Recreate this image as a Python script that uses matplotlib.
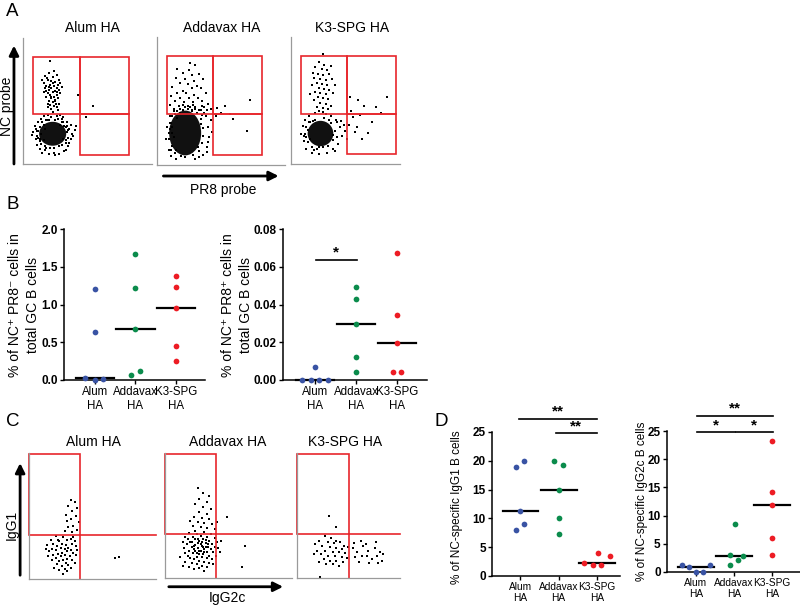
import matplotlib
matplotlib.use('Agg')
import numpy as np
import matplotlib.pyplot as plt
from matplotlib.patches import Rectangle, Ellipse

plt.rcParams['font.family'] = ['Liberation Sans', 'DejaVu Sans']

# ---------------- data ----------------
groups = ['Alum\nHA', 'Addavax\nHA', 'K3-SPG\nHA']
flow_titles = ['Alum HA', 'Addavax HA', 'K3-SPG HA']
colors = ['#3953a4', '#0b8c4c', '#ed1c24']

# B: % of NC+ PR8- cells in total GC B cells
b1_alum = [1.21, 0.63, 0.03, 0.0, 0.01]
b1_addavax = [1.67, 1.22, 0.68, 0.12, 0.07]
b1_k3 = [1.38, 1.23, 0.95, 0.45, 0.25]
b1_dx = [[0, 0, -0.25, 0, 0.2], [0, 0, 0, 0.12, -0.1], [0, 0, 0, 0, 0]]

# B: % of NC+ PR8+ cells in total GC B cells
b2_alum = [0.007, 0.0, 0.0, 0.0, 0.0]
b2_addavax = [0.0494, 0.0427, 0.0297, 0.012, 0.0044]
b2_k3 = [0.0674, 0.0344, 0.0196, 0.0041, 0.0041]
b2_dx = [[0, -0.32, -0.1, 0.1, 0.32], [0, 0, 0, 0, 0], [0, 0, 0, -0.1, 0.1]]

# D: % of NC-specific IgG1 B cells
d1_alum = [20.0, 19.0, 11.2, 9.1, 8.0]
d1_addavax = [20.0, 19.2, 15.0, 10.1, 7.3]
d1_k3 = [2.27, 1.98, 4.0, 1.98, 3.43]
d1_dx = [[0.1, -0.12, 0, 0.1, -0.12], [-0.12, 0.12, 0, 0, 0], [-0.33, -0.09, 0.02, 0.12, 0.34]]

# D: % of NC-specific IgG2c B cells
d2_alum = [1.18, 0.83, 0.0, 0.0, 1.18]
d2_addavax = [8.5, 2.95, 2.77, 2.12, 1.18]
d2_k3 = [23.3, 14.27, 11.8, 6.0, 3.07]
d2_dx = [[-0.38, -0.18, 0, 0.18, 0.37], [0.03, -0.1, 0.23, 0.11, -0.1], [0, 0, 0, 0, 0]]

# flow dot plots (0-100 scale on both axes), events
a1_dots = [(17, 70), (20, 72), (23, 69), (26, 71), (19, 67), (22, 66), (25, 65), (28, 67), (16, 64), (18, 62),
           (21, 63), (24, 62), (27, 63), (30, 61), (17, 60), (20, 59), (22, 60), (25, 58), (28, 59), (19, 56),
           (21, 55), (23, 57), (26, 55), (29, 56), (16, 57), (18, 53), (22, 52), (24, 53), (27, 52), (20, 50),
           (23, 49), (25, 50), (28, 48), (21, 47), (24, 46), (26, 45), (22, 44), (19, 48), (27, 43), (23, 41),
           (15, 67), (29, 64), (24, 74), (18, 58), (26, 60), (21, 82), (54, 46), (43, 55), (49, 37), (30, 33),
           (18.5, 68.5), (23.5, 64), (20.5, 61), (26.5, 57.5), (21.5, 53.5), (24.5, 51), (19.5, 45), (25.5, 48),
           (8, 25), (10, 20), (9, 30), (11, 15), (12, 33), (13, 12), (14, 36), (15, 9), (16, 38), (17, 11),
           (19, 39), (20, 8), (22, 37), (24, 9), (26, 38), (28, 8), (30, 36), (32, 10), (34, 33), (35, 14),
           (36, 28), (37, 20), (38, 24), (36, 17), (34, 30), (12, 26), (11, 22), (13, 18), (33, 11), (31, 37),
           (39, 22), (40, 27), (7, 23), (18, 35), (29, 39), (25, 7), (10, 28), (37, 31), (33, 19), (41, 30),
           (12, 21), (13, 29), (14, 16), (15, 33), (17, 14), (19, 35), (21, 13), (25, 35), (28, 14), (31, 33),
           (33, 17), (34, 25), (35, 21), (32, 30), (16, 31), (14, 24), (30, 15), (27, 36), (20, 35), (13, 20),
           (35, 27), (33, 29), (18, 13), (24, 13), (11, 26), (16, 19), (31, 20), (29, 31), (17, 28)]
a1_cores = [(23, 24, 21, 19)]

a2_dots = [(30, 78), (25, 74), (20, 72), (27, 70), (33, 71), (15, 68), (22, 67), (29, 66), (36, 67), (18, 64),
           (24, 63), (31, 62), (12, 61), (27, 60), (34, 60), (20, 58), (16, 56), (23, 56), (29, 55), (38, 56),
           (11, 54), (18, 52), (25, 52), (32, 52), (14, 50), (21, 49), (28, 49), (35, 50), (40, 48), (10, 47),
           (17, 46), (24, 46), (30, 45), (37, 45), (13, 44), (20, 43), (27, 43), (33, 43), (42, 44), (26, 80),
           (16, 75), (47, 44.5), (72.6, 51), (70, 26.5), (57, 40), (59.4, 36), (39, 43), (50, 41), (53, 46),
           (46, 38), (7, 20), (8, 30), (9, 12), (10, 38), (9, 25), (11, 7), (13, 42), (15, 5), (18, 44), (22, 6),
           (26, 45), (30, 5), (34, 43), (36, 8), (38, 38), (39, 14), (40, 30), (41, 22), (42, 35), (40, 18),
           (37, 41), (12, 15), (11, 33), (14, 40), (20, 47), (28, 47), (33, 6), (43, 26), (39, 10), (35, 46),
           (9, 20), (10, 28), (10, 33), (11, 12), (12, 38), (14, 9), (16, 42), (19, 7), (24, 44), (28, 8),
           (31, 41), (33, 11), (34, 36), (35, 17), (36, 29), (36, 23), (13, 22), (12, 30), (16, 37), (30, 44),
           (22, 45), (18, 41), (32, 14), (34, 32), (12, 25), (15, 12), (35, 39), (27, 42)]
a2_cores = [(22, 25, 25, 35)]

a3_dots = [(25, 87), (22, 80), (26, 78), (19, 76), (24, 75), (28, 74), (17, 72), (21, 71), (25, 70), (30, 71),
           (18, 68), (23, 67), (27, 66), (32, 67), (20, 64), (24, 63), (28, 62), (16, 62), (22, 60), (26, 59),
           (30, 58), (19, 57), (23, 56), (27, 55), (33, 56), (21, 53), (25, 52), (29, 51), (18, 50), (23, 48),
           (27, 47), (31, 46), (20, 45), (25, 44), (29, 43), (22, 42), (15, 55), (34, 62), (31, 77),
           (46, 53), (52.3, 50.6), (75, 53), (51.5, 29), (60, 24.4), (48.4, 37), (54, 38.6), (57, 46), (63, 33),
           (47, 42), (70, 40), (45, 31), (55, 20), (66, 45), (50, 25),
           (8, 24), (9, 30), (10, 18), (11, 35), (12, 12), (14, 38), (16, 9), (19, 40), (22, 8), (25, 41),
           (28, 9), (31, 38), (33, 12), (35, 35), (37, 16), (38, 29), (40, 22), (42, 26), (44, 20), (36, 33),
           (13, 27), (10, 22), (34, 10), (27, 39), (18, 11), (39, 34), (41, 31), (15, 33),
           (11, 24), (12, 29), (13, 17), (14, 33), (16, 13), (19, 35), (22, 13), (26, 36), (29, 14), (31, 32),
           (33, 19), (34, 26), (33, 23), (17, 34), (30, 35), (12, 21), (25, 13), (20, 12), (36, 21), (15, 20)]
a3_cores = [(23, 24, 20, 20)]

c1_dots = [(33, 63), (36, 61), (31, 58), (38, 56), (34, 54), (29, 51), (37, 50), (33, 48), (30, 46), (39, 45),
           (35, 42), (31, 41), (38, 39), (34, 37), (28, 38), (21, 34), (27, 33), (33, 32), (17, 31), (24, 30),
           (30, 31), (36, 30), (19, 28), (26, 28), (29, 27), (34, 28), (14, 27), (22, 26), (31, 25), (37, 26),
           (25, 25), (18, 24), (28, 24), (33, 23), (21, 23), (16, 22), (26, 21), (30, 22), (35, 21), (23, 20),
           (19, 19), (28, 19), (32, 18), (37, 19), (25, 18), (15, 18), (21, 17), (30, 16), (27, 15), (34, 15),
           (18, 15), (24, 14), (29, 13), (36, 13), (22, 12), (31, 11), (26, 10), (33, 9), (28, 8), (24, 7),
           (30, 6), (27, 4), (20, 9), (38, 23), (13, 24), (35, 33), (23, 31), (67.7, 16.7), (71, 17.5)]

c2_dots = [(26, 72), (30, 68), (35, 66), (27, 63), (33, 61), (24, 59), (30, 57), (36, 55), (27, 53), (33, 51),
           (23, 49), (29, 48), (35, 47), (26, 45), (31, 44), (37, 43), (22, 42), (28, 41), (33, 40), (39, 39),
           (24, 38), (49, 49), (41, 45), (20, 46), (19, 36), (25, 35), (31, 37), (36, 35), (16, 33), (22, 33),
           (28, 34), (33, 33), (39, 32), (18, 31), (24, 31), (27, 30), (30, 31), (35, 30), (41, 29), (14, 29),
           (20, 29), (26, 28), (32, 28), (37, 27), (17, 27), (23, 26), (29, 26), (34, 25), (39, 25), (21, 25),
           (15, 24), (26, 24), (31, 23), (36, 23), (19, 22), (24, 22), (28, 22), (33, 21), (38, 21), (16, 20),
           (22, 20), (27, 19), (30, 19), (35, 18), (40, 18), (18, 18), (25, 17), (29, 17), (33, 16), (20, 16),
           (37, 15), (23, 15), (27, 14), (31, 13), (16, 13), (35, 12), (21, 12), (25, 11), (29, 10), (33, 9),
           (19, 9), (27, 8), (23, 7), (31, 6), (14, 10), (38, 11), (12, 17), (42, 24), (44, 30), (43, 21),
           (63, 25.6), (61, 8.8), (29, 29), (25, 20), (32, 25), (28, 27.5), (23, 23.5), (31, 20.5), (26, 31.5),
           (34, 27), (21, 28.5), (30, 24.5), (27, 21.5), (24, 26.5), (32, 30.5)]

c3_dots = [(25, 50), (31, 41), (22, 34), (27, 32), (31, 30), (17, 30), (24, 29), (29, 28), (34, 29), (37, 26),
           (14, 27), (20, 26), (26, 25), (31, 24), (35, 23), (40, 25), (16, 22), (22, 22), (28, 21), (33, 21),
           (38, 20), (13, 19), (19, 19), (24, 18), (30, 18), (35, 17), (39, 16), (21, 15), (26, 14), (31, 14),
           (36, 13), (17, 13), (28, 11), (33, 10), (23, 11), (18, 1),
           (44, 24), (47, 21), (52, 26), (56, 22), (61, 24), (65, 21), (68, 19), (46, 17), (51, 18), (55, 18),
           (59, 15), (63, 18), (67, 14), (49, 13), (57, 12), (64, 12), (45, 28), (54, 27), (62, 29), (50, 30)]

# ---------------- figure ----------------
W, H = 800, 606
fig = plt.figure(figsize=(8, 6.06), dpi=100)
GATE = '#e8262c'


def px_axes(left, top, right, bottom):
    return fig.add_axes([left / W, 1 - bottom / H, (right - left) / W, (bottom - top) / H])


def px_text(x, y, s, **kw):
    fig.text(x / W, 1 - y / H, s, ha='center', va='center', **kw)


def flow_panel(ax, xmax, dots, cores=()):
    ax.set_xlim(0, xmax)
    ax.set_ylim(0, 100)
    ax.set_xticks([])
    ax.set_yticks([])
    for s in ['top', 'right']:
        ax.spines[s].set_visible(False)
    for s in ['left', 'bottom']:
        ax.spines[s].set_color('#9a9a9a')
        ax.spines[s].set_linewidth(0.9)
    for cx, cy, w, h in cores:
        ax.add_patch(Ellipse((cx, cy), w, h, facecolor='#111111', edgecolor='none'))
    xs, ys = zip(*dots)
    ax.scatter(xs, ys, s=0.9, color='black', linewidths=0, marker='s')


def a_gates(ax):
    for x0, y0, w, h in [(8, 39.5, 36, 45.5), (44, 39.5, 38, 45.5), (44, 7.5, 38, 32)]:
        ax.add_patch(Rectangle((x0, y0), w, h, fill=False, edgecolor=GATE, lw=1.2, clip_on=False))


def c_gates(ax, vx, xmax):
    ax.add_patch(Rectangle((0, 35), vx, 64, fill=False, edgecolor=GATE, lw=1.2, clip_on=False))
    ax.plot([vx, vx], [0, 35], color=GATE, lw=1.2, clip_on=False)
    ax.plot([vx, xmax], [35, 35], color=GATE, lw=1.2, clip_on=False)


def dot_panel(ax, series, dxs, xlim, ylim, yticks, fmt, xfs):
    for i, (vals, dx, c) in enumerate(zip(series, dxs, colors)):
        x = i + 1 + np.array(dx)
        m = np.median(vals)
        ax.plot([i + 1 - 0.47, i + 1 + 0.47], [m, m], color='black', lw=1.6, zorder=2, clip_on=False)
        ax.scatter(x, vals, s=17, color=c, linewidths=0, zorder=3, clip_on=False)
    ax.set_xlim(*xlim)
    ax.set_ylim(*ylim)
    ax.set_yticks(yticks)
    ax.set_yticklabels([fmt.format(t) for t in yticks], fontsize=8.5, fontweight='bold')
    ax.set_xticks([1, 2, 3])
    ax.set_xticklabels(groups, fontsize=xfs, linespacing=1.15)
    ax.tick_params(axis='both', length=3, width=1, pad=1.5)
    for s in ['top', 'right']:
        ax.spines[s].set_visible(False)
    for s in ['left', 'bottom']:
        ax.spines[s].set_linewidth(1.1)


def sig_bar(ax, x1, x2, y, label):
    ax.plot([x1, x2], [y, y], color='black', lw=1.2, clip_on=False)
    ax.text((x1 + x2) / 2, y, label, ha='center', va='bottom', fontsize=11, fontweight='bold')


# ---- panel A ----
ax_a1 = px_axes(23, 38, 152, 164)
ax_a2 = px_axes(157, 37, 285, 165)
ax_a3 = px_axes(291, 37, 400, 164)
flow_panel(ax_a1, 100, a1_dots, a1_cores)
flow_panel(ax_a2, 100, a2_dots, a2_cores)
flow_panel(ax_a3, 85, a3_dots, a3_cores)
for ax in (ax_a1, ax_a2, ax_a3):
    a_gates(ax)
for (x, t) in zip([92, 222, 352], flow_titles):
    px_text(x, 28, t, fontsize=10)
ax_a1.annotate('', xy=(-0.07, 0.94), xytext=(-0.07, 0.0), xycoords='axes fraction',
               arrowprops=dict(arrowstyle='-|>', color='black', lw=2, mutation_scale=14, shrinkA=0, shrinkB=0),
               annotation_clip=False)
ax_a2.annotate('', xy=(0.95, -0.086), xytext=(0.05, -0.086), xycoords='axes fraction',
               arrowprops=dict(arrowstyle='-|>', color='black', lw=2, mutation_scale=14, shrinkA=0, shrinkB=0),
               annotation_clip=False)
px_text(7, 106, 'NC probe', rotation=90, fontsize=10)
px_text(223, 190, 'PR8 probe', fontsize=10)

# ---- panel B ----
ax_b1 = px_axes(64, 229, 205, 380)
dot_panel(ax_b1, [b1_alum, b1_addavax, b1_k3], b1_dx, (0.235, 3.716), (0, 2.0),
          [0, 0.5, 1.0, 1.5, 2.0], '{:.1f}', 8.3)
ax_b2 = px_axes(283, 229, 427, 380)
dot_panel(ax_b2, [b2_alum, b2_addavax, b2_k3], b2_dx, (0.22, 3.73), (0, 0.08),
          [0, 0.02, 0.04, 0.06, 0.08], '{:.2f}', 8.3)
sig_bar(ax_b2, 1.02, 2.02, 0.0636, '*')
px_text(24, 305, '% of NC\u207a PR8\u207b cells in\ntotal GC B cells', rotation=90, fontsize=10, linespacing=1.3)
px_text(237, 305, '% of NC\u207a PR8\u207a cells in\ntotal GC B cells', rotation=90, fontsize=10, linespacing=1.3)

# ---- panel C ----
ax_c1 = px_axes(29, 453, 156, 579)
ax_c2 = px_axes(165, 453, 292, 578)
ax_c3 = px_axes(297, 453, 400, 578)
flow_panel(ax_c1, 100, c1_dots)
flow_panel(ax_c2, 100, c2_dots)
flow_panel(ax_c3, 81, c3_dots)
c_gates(ax_c1, 40, 100)
c_gates(ax_c2, 40, 100)
c_gates(ax_c3, 41, 81)
for (x, t) in zip([93, 228, 345], flow_titles):
    px_text(x, 442, t, fontsize=10)
ax_c1.annotate('', xy=(-0.07, 0.92), xytext=(-0.07, 0.03), xycoords='axes fraction',
               arrowprops=dict(arrowstyle='-|>', color='black', lw=2, mutation_scale=14, shrinkA=0, shrinkB=0),
               annotation_clip=False)
ax_c2.annotate('', xy=(0.93, -0.07), xytext=(0.03, -0.07), xycoords='axes fraction',
               arrowprops=dict(arrowstyle='-|>', color='black', lw=2, mutation_scale=14, shrinkA=0, shrinkB=0),
               annotation_clip=False)
px_text(12, 525, 'IgG1', rotation=90, fontsize=10)
px_text(227, 598, 'IgG2c', fontsize=10)

# ---- panel D ----
ax_d1 = px_axes(492, 432, 620, 576)
dot_panel(ax_d1, [d1_alum, d1_addavax, d1_k3], d1_dx, (0.253, 3.61), (0, 25),
          [0, 5, 10, 15, 20, 25], '{:d}', 7.3)
sig_bar(ax_d1, 0.95, 3.0, 27.3, '**')
sig_bar(ax_d1, 1.93, 3.0, 24.8, '**')
ax_d2 = px_axes(667, 431, 800, 572)
dot_panel(ax_d2, [d2_alum, d2_addavax, d2_k3], d2_dx, (0.237, 3.74), (0, 25),
          [0, 5, 10, 15, 20, 25], '{:d}', 7.3)
sig_bar(ax_d2, 1.02, 3.03, 27.7, '**')
sig_bar(ax_d2, 1.02, 2.02, 24.8, '*')
sig_bar(ax_d2, 2.05, 3.03, 24.8, '*')
px_text(457, 507, '% of NC-specific IgG1 B cells', rotation=90, fontsize=8.5)
px_text(642, 501, '% of NC-specific IgG2c B cells', rotation=90, fontsize=8.5)

# panel letters
for (x, y, s) in [(12.5, 12, 'A'), (12.5, 205, 'B'), (12.5, 421, 'C'), (441, 421, 'D')]:
    px_text(x, y, s, fontsize=13.5)

fig.savefig('out.png', dpi=100)
